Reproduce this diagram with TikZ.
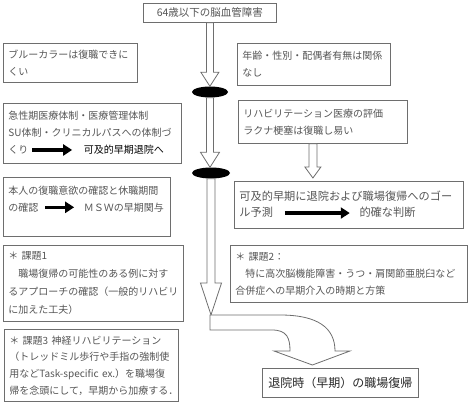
\documentclass[tikz,border=0pt]{standalone}
\usepackage{fontspec}
\newfontfamily\jp{Noto Sans CJK JP}
\usetikzlibrary{calc, positioning, arrows.meta, shapes.geometric}

\definecolor{boxgray}{HTML}{6E6E6E}
\definecolor{txtgray}{HTML}{555555}

% thick black arrow used inside the box texts
\newcommand{\fatarrow}[1]{\tikz[baseline=-3.8pt]\draw[line width=3.5pt, draw=black, -{Triangle[length=9pt,width=11pt]}] (0pt,0pt) -- (#1,0pt);}

% hollow block arrow pointing down: start, tip, shaft half, head half, head length
\newcommand{\hollowdown}[5]{%
  \draw[hollow] let \p1=#1, \p2=#2 in
    (\x1-#3,\y1) -- (\x1-#3,\y2+#5) -- (\x1-#4,\y2+#5) -- (\x1,\y2)
    -- (\x1+#4,\y2+#5) -- (\x1+#3,\y2+#5) -- (\x1+#3,\y1) -- cycle;}

\begin{document}
\begin{tikzpicture}[
    x=1pt, y=-1pt,
    box/.style={
        rectangle,
        draw=boxgray,
        line width=0.8pt,
        anchor=north west,
        align=left,
        inner sep=5pt,
        text=txtgray,
        font=\jp\fontsize{10}{17}\selectfont
    },
    titlebox/.style={
        box,
        align=center,
        inner sep=2pt
    },
    dot/.style={
        ellipse,
        fill=black,
        inner sep=0pt
    },
    hollow/.style={
        draw=boxgray,
        line width=0.8pt,
        fill=white
    }
]
\useasboundingbox (0,0) rectangle (469,404);

\node[titlebox, minimum width=133pt, minimum height=19pt, font=\jp\fontsize{10.5}{12}\selectfont] (top) at (143,3) {64歳以下の脳血管障害};

\node[dot, minimum width=36pt, minimum height=11pt] (e1) at (210,92) {};
\node[dot, minimum width=38pt, minimum height=11pt] (e2) at (211,173) {};

% left column
\node[box, text width=124pt, minimum height=39pt] (lb1) at (3,43) {ブルーカラーは復職できに\\くい};
\node[box, text width=168pt, minimum height=60pt] (lb2) at (3,103) {急性期医療体制・医療管理体制\\SU体制・クリニカルパスへの体制づ\\くり\hspace{2pt}\fatarrow{40pt}\hspace{10pt}{\color{black}可及的早期退院へ}};
\node[box, text width=157pt, minimum height=59pt] (lb3) at (3,177) {本人の復職意欲の確認と休職期間\\の確認\hspace{5pt}\fatarrow{29pt}\hspace{8pt}ＭＳＷの早期関与\\\mbox{}};
\node[box, text width=170pt, minimum height=76pt, font=\jp\fontsize{10}{18}\selectfont] (lb4) at (3,245) {＊ 課題1\\　職場復帰の可能性のある例に対す\\るアプローチの確認（一般的リハビリ\\に加えた工夫）};
\node[box, text width=164pt, minimum height=72pt, font=\jp\fontsize{10}{16.7}\selectfont] (lb5) at (4,329) {＊ 課題3 神経リハビリテーション\\（トレッドミル歩行や手指の強制使\\用などTask-specific ex.）を職場復\\帰を念頭にして，早期から加療する．};

% right column
\node[box, text width=143pt, minimum height=42pt] (rb1) at (237,43) {年齢・性別・配偶者有無は関係\\なし};
\node[box, text width=159pt, minimum height=43pt] (rb2) at (238,100) {リハビリテーション医療の評価\\ラクナ梗塞は復職し易い};
\node[box, text width=219pt, minimum height=47pt, font=\jp\fontsize{11.2}{16}\selectfont] (rb3) at (234,181) {可及的早期に退院および職場復帰へのゴー\\ル予測\hspace{10pt}\fatarrow{65pt}\hspace{8pt}的確な判断};
\node[box, text width=227pt, minimum height=57pt] (rb4) at (230,245) {＊ 課題2：\\　特に高次脳機能障害・うつ・肩関節亜脱臼など\\合併症への早期介入の時期と方策};

\node[titlebox, minimum width=156pt, minimum height=29pt, text=black!85, font=\jp\fontsize{12}{14}\selectfont] (final) at (262,368) {退院時（早期）の職場復帰};

% main column of block arrows
\coordinate (bend) at (210,315);
\coordinate (tip) at ($(final.north)+(-28,-3)$);
\hollowdown{(top.south)}{(e1.north)}{3.5pt}{9pt}{14pt}
\hollowdown{(e1.south)}{(e2.north)}{3.5pt}{9.5pt}{15pt}
\hollowdown{(e2.south)}{(bend)}{4pt}{10.5pt}{32pt}
\hollowdown{($(rb2.south)+(-10,0)$)}{($(rb3.north)+(0,-3)$)}{4pt}{8pt}{11pt}

\draw[hollow] (bend) -- (280,315) .. controls (318,315) and (335,328) .. (335,351)
    -- (350,351) -- (tip) -- (274,351) -- (290,351)
    .. controls (290,338) and (287,330) .. (272,330) -- ($(bend)+(0,15)$) -- cycle;

\end{tikzpicture}
\end{document}
